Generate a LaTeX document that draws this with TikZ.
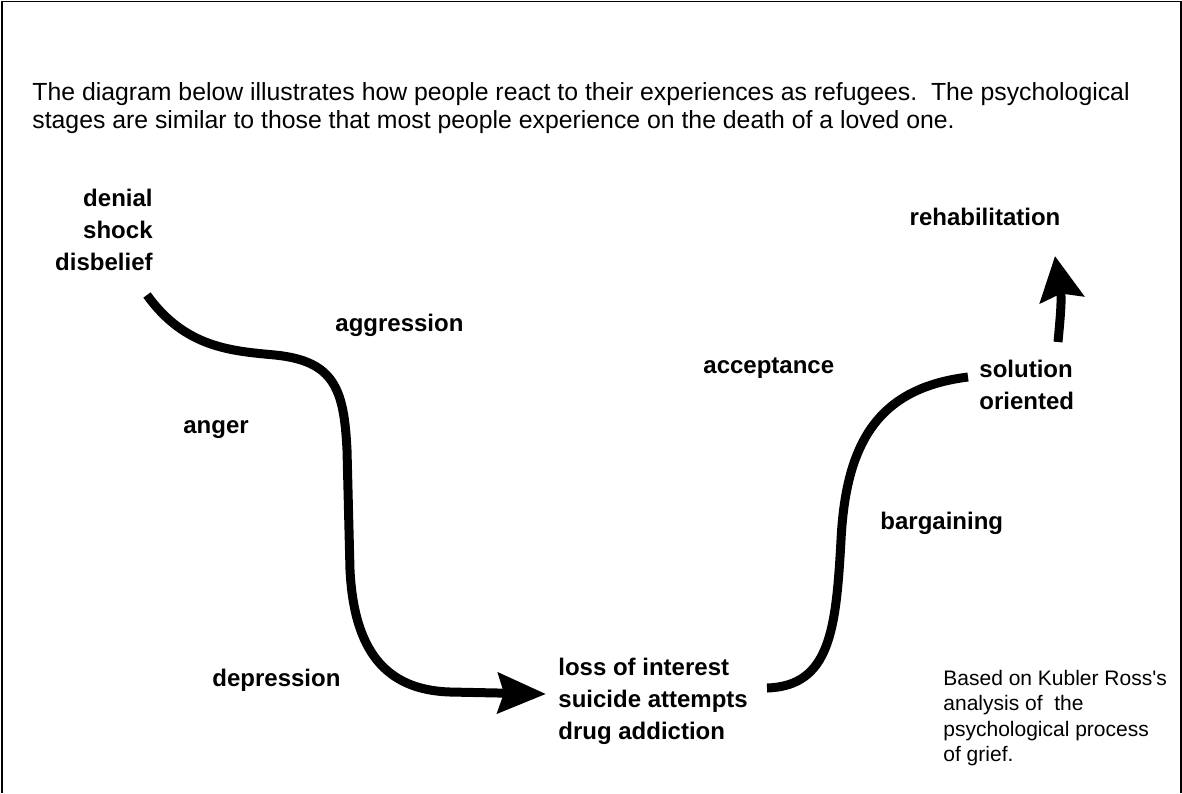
\documentclass[tikz,border=0pt]{standalone}
\usepackage{fontspec}
\setmainfont{Liberation Sans}
\newfontfamily\plainquotes{Liberation Sans}[Ligatures=ResetAll]
\usetikzlibrary{arrows.meta}
\begin{document}
\begin{tikzpicture}[x=0.5pt,y=-0.5pt,
  stage/.style={inner sep=0pt, font=\fontsize{12}{16}\selectfont\bfseries},
  intro/.style={inner sep=0pt, align=left, font=\fontsize{12.4}{14}\selectfont},
  note/.style={inner sep=0pt, align=left, font=\plainquotes\fontsize{10.5}{12.75}\selectfont},
  flow/.style={line width=4.5pt, line cap=butt},
  bighead/.style={-{Stealth[length=24pt,width=20pt,inset=3pt]}},
  uphead/.style={-{Stealth[length=22pt,width=22pt,inset=3pt]}}]
\useasboundingbox (0,0) rectangle (1182,793);
\fill[white] (0,0) rectangle (1182,793);
% frame (open at the bottom)
\draw[line width=0.8pt] (2,793) -- (2,1.5) -- (1181,1.5) -- (1181,793);

% introduction
\node[intro, anchor=west] (intro) at (32,108)
  {The diagram below illustrates how people react to their experiences as refugees.\ \ The psychological\\
   stages are similar to those that most people experience on the death of a loved one.};

% stage labels
\node[stage, anchor=east, align=right] (denial) at (153,230) {denial\\shock\\disbelief};
\node[stage, anchor=west] (aggression) at (335,325) {aggression};
\node[stage, anchor=west] (anger) at (183,430) {anger};
\node[stage, anchor=west] (depression) at (212,680) {depression};
\node[stage, anchor=west, align=left] (loss) at (558,701) {loss of interest\\suicide attempts\\drug addiction};
\node[stage, anchor=west] (acceptance) at (703,368) {acceptance};
\node[stage, anchor=west] (bargaining) at (880,523) {bargaining};
\node[stage, anchor=west, align=left] (solution) at (979,385) {solution\\oriented};
\node[stage, anchor=center] (rehab) at (985,217) {rehabilitation};

\node[note, anchor=west] (note) at (943,718)
  {Based on Kubler Ross's\\analysis of\ \ the\\psychological process\\of grief.};

% path of the stages
\coordinate (s1) at (147,295);
\coordinate (e1) at (546,694);
\coordinate (s2) at (767,688);
\coordinate (e2) at (968,377);
\coordinate (s3) at (1058,342);
\coordinate (e3) at (1055,256);

\draw[flow, bighead] (s1)
  .. controls (185,348) and (232,351) .. (275,355)
  .. controls (335,361) and (344,390) .. (347,450)
  -- (350,570)
  .. controls (354,650) and (385,690) .. (450,692)
  -- (e1);
\draw[flow] (s2)
  .. controls (830,686) and (836,630) .. (841,540)
  .. controls (846,440) and (880,388) .. (e2);
\draw[flow, uphead] (s3) .. controls (1060,320) and (1062,300) .. (e3);
\end{tikzpicture}
\end{document}
